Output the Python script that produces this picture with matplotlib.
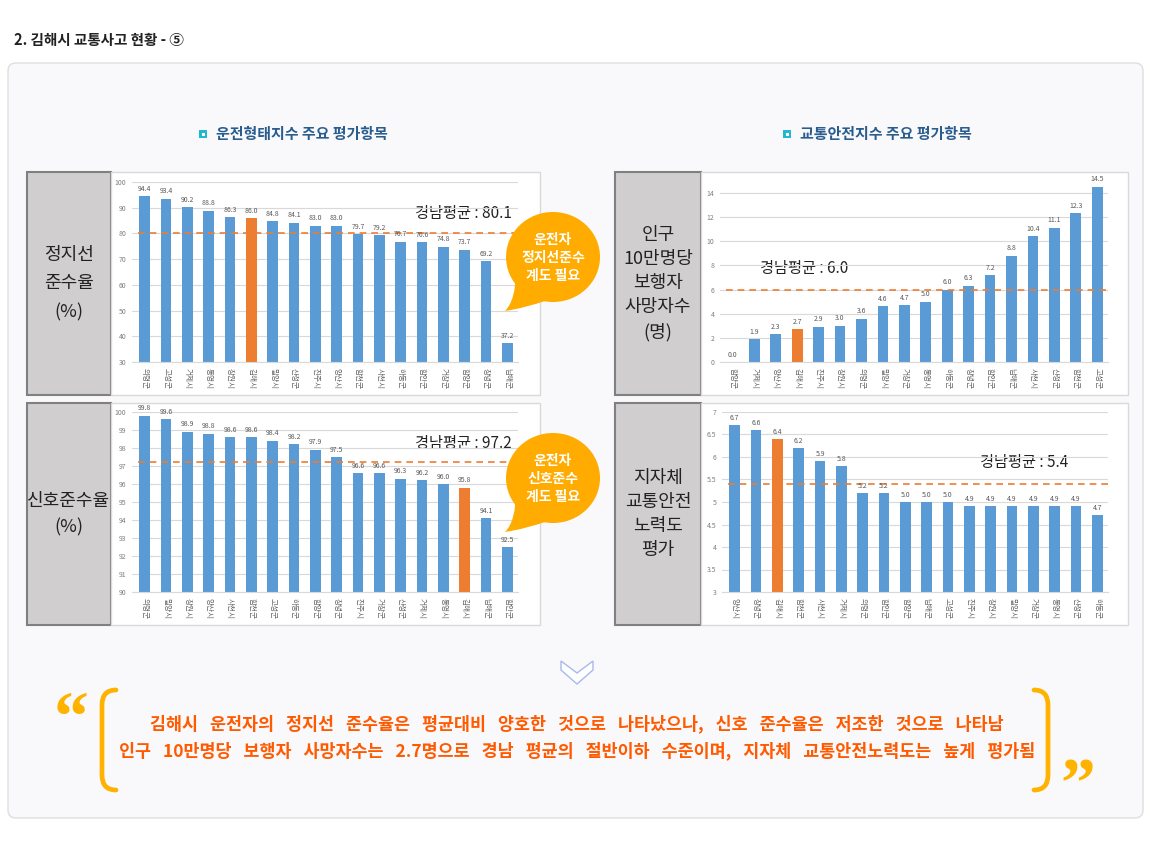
import numpy as np
import matplotlib.pyplot as plt
from matplotlib.patches import FancyBboxPatch, Rectangle, Ellipse, PathPatch, Polygon
from matplotlib.path import Path

plt.rcParams['font.family'] = ['Noto Sans CJK KR', 'DejaVu Sans']

W, H = 1150, 849
BLUE = '#5b9bd5'
ORANGE = '#ed7d31'
AMBER = '#ffab00'
GOLD = '#ffb300'

# 정지선 준수율 (%)
stop_regions = ['의령군', '고성군', '거제시', '통영시', '창원시', '김해시', '밀양시', '산청군', '진주시',
                '양산시', '합천군', '사천시', '하동군', '함안군', '거창군', '함양군', '창녕군', '남해군']
stop_values = [94.4, 93.4, 90.2, 88.8, 86.3, 86.0, 84.8, 84.1, 83.0,
               83.0, 79.7, 79.2, 76.7, 76.6, 74.8, 73.7, 69.2, 37.2]
stop_avg = 80.1

# 신호준수율 (%)
signal_regions = ['의령군', '밀양시', '창원시', '양산시', '사천시', '합천군', '고성군', '하동군', '함양군',
                  '창녕군', '진주시', '거창군', '산청군', '거제시', '통영시', '김해시', '남해군', '함안군']
signal_values = [99.8, 99.6, 98.9, 98.8, 98.6, 98.6, 98.4, 98.2, 97.9,
                 97.5, 96.6, 96.6, 96.3, 96.2, 96.0, 95.8, 94.1, 92.5]
signal_avg = 97.2

# 인구 10만명당 보행자 사망자수 (명)
ped_regions = ['함양군', '거제시', '양산시', '김해시', '진주시', '창원시', '의령군', '밀양시', '거창군',
               '통영시', '하동군', '창녕군', '함안군', '남해군', '사천시', '산청군', '합천군', '고성군']
ped_values = [0.0, 1.9, 2.3, 2.7, 2.9, 3.0, 3.6, 4.6, 4.7,
              5.0, 6.0, 6.3, 7.2, 8.8, 10.4, 11.1, 12.3, 14.5]
ped_avg = 6.0

# 지자체 교통안전 노력도 평가
effort_regions = ['양산시', '창녕군', '김해시', '합천군', '사천시', '거제시', '의령군', '함안군', '함양군',
                  '남해군', '고성군', '진주시', '창원시', '밀양시', '거창군', '통영시', '산청군', '하동군']
effort_values = [6.7, 6.6, 6.4, 6.2, 5.9, 5.8, 5.2, 5.2, 5.0,
                 5.0, 5.0, 4.9, 4.9, 4.9, 4.9, 4.9, 4.9, 4.7]
effort_avg = 5.4


def rect(x0, y0, x1, y1):
    return [x0 / W, 1 - y1 / H, (x1 - x0) / W, (y1 - y0) / H]


fig = plt.figure(figsize=(W / 100, H / 100), dpi=100)
fig.patch.set_facecolor('white')

bg = fig.add_axes([0, 0, 1, 1])
bg.set_xlim(0, W)
bg.set_ylim(H, 0)
bg.axis('off')

bg.text(14, 40, '2. 김해시 교통사고 현황 - ⑤', fontsize=10.5, fontweight='bold', color='#222222',
        va='center', ha='left')

bg.add_patch(FancyBboxPatch((8, 63), 1135, 755, boxstyle='round,pad=0,rounding_size=8',
                            facecolor='#f9f9fb', edgecolor='#dedede', lw=1))

# section headers
for mx, label in [(203, '운전형태지수 주요 평가항목'), (787, '교통안전지수 주요 평가항목')]:
    bg.add_patch(Rectangle((mx - 4, 130), 8, 8, facecolor='#22b8cf', edgecolor='none'))
    bg.add_patch(Rectangle((mx - 1.5, 132.5), 3, 3, facecolor='white', edgecolor='none'))
    bg.text(mx + 13, 134, label, fontsize=10.8, fontweight='bold', color='#2a5d8f', va='center', ha='left')

# label boxes and chart panels
boxes = [
    (27, 172, 111, 395, '정지선\n준수율\n(%)', 1.75),
    (27, 403, 111, 625, '신호준수율\n(%)', 1.6),
    (615, 172, 701, 395, '인구\n10만명당\n보행자\n사망자수\n(명)', 1.45),
    (615, 403, 701, 625, '지자체\n교통안전\n노력도\n평가', 1.45),
]
for x0, y0, x1, y1, label, ls in boxes:
    bg.add_patch(Rectangle((x0, y0), x1 - x0, y1 - y0, facecolor='#d0cece', edgecolor='#808080', lw=1.5))
    bg.text((x0 + x1) / 2, (y0 + y1) / 2, label, fontsize=13, color='#222222', ha='center', va='center',
            linespacing=ls, multialignment='center')
    px1 = 540 if x0 < 300 else 1128
    bg.add_patch(Rectangle((x1, y0), px1 - x1, y1 - y0, facecolor='white', edgecolor='#d9d9d9', lw=1))


def draw_chart(pos, regions, values, avg, ylim, yticks, ytl, avg_xy):
    ax = fig.add_axes(rect(*pos))
    ax.patch.set_alpha(0)
    x = np.arange(len(regions))
    colors = [ORANGE if r == '김해시' else BLUE for r in regions]
    ax.bar(x, values, width=0.5, color=colors, zorder=2)
    ax.hlines(avg, -0.3, len(regions) - 0.5, colors=ORANGE, linestyles=(0, (4, 3)), lw=1.2, zorder=3)
    for xi, v in zip(x, values):
        ax.annotate(f'{v:.1f}', (xi, v), xytext=(0, 2.5), textcoords='offset points', ha='center',
                    va='bottom', fontsize=5, color='#595959', annotation_clip=False)
    ax.set_xlim(-0.6, len(regions) - 0.5)
    ax.set_ylim(*ylim)
    ax.set_yticks(yticks)
    ax.set_yticklabels(ytl, fontsize=5, color='#7f7f7f')
    ax.set_xticks(x)
    ax.set_xticklabels(regions, rotation=-90, fontsize=5.5, color='#666666')
    ax.tick_params(length=0, pad=4)
    ax.grid(axis='y', color='#d9d9d9', lw=0.8, zorder=0)
    ax.set_axisbelow(True)
    for s in ['left', 'right', 'top']:
        ax.spines[s].set_visible(False)
    ax.spines['bottom'].set_color('#d9d9d9')
    bg.text(avg_xy[0], avg_xy[1], f'경남평균 : {avg:.1f}', fontsize=11, color='#222222',
            ha='center', va='center')
    return ax


draw_chart((132, 182, 518, 362), stop_regions, stop_values, stop_avg, (30, 100),
           range(30, 101, 10), [str(t) for t in range(30, 101, 10)], (463, 213))
draw_chart((132, 412, 518, 592), signal_regions, signal_values, signal_avg, (90, 100),
           range(90, 101), [str(t) for t in range(90, 101)], (463, 443))
draw_chart((720, 182, 1108, 362), ped_regions, ped_values, ped_avg, (0, 14.9),
           range(0, 15, 2), [str(t) for t in range(0, 15, 2)], (804, 269))
eff_ticks = np.arange(3, 7.01, 0.5)
draw_chart((722, 412, 1108, 592), effort_regions, effort_values, effort_avg, (3, 7),
           eff_ticks, [f'{t:g}' for t in eff_ticks], (1024, 462))

# overlay for speech bubbles
top = fig.add_axes([0, 0, 1, 1], zorder=10)
top.set_xlim(0, W)
top.set_ylim(H, 0)
top.axis('off')


def bubble(cx, cy, text):
    top.add_patch(Ellipse((cx, cy), 94, 90, facecolor=AMBER, edgecolor='none'))
    verts = [(cx - 37, cy + 13), (cx - 37, cy + 43), (cx - 48, cy + 54),
             (cx - 28, cy + 51), (cx - 5, cy + 43), (cx - 37, cy + 13)]
    codes = [Path.MOVETO, Path.CURVE3, Path.CURVE3, Path.CURVE3, Path.CURVE3, Path.CLOSEPOLY]
    top.add_patch(PathPatch(Path(verts, codes), facecolor=AMBER, edgecolor='none'))
    top.text(cx, cy + 1, text, fontsize=10, fontweight='bold', color='white', ha='center', va='center',
             linespacing=1.35)


bubble(553, 257, '운전자\n정지선준수\n계도 필요')
bubble(553, 478, '운전자\n신호준수\n계도 필요')

# chevron
bg.add_patch(Polygon([(561, 661), (577, 673), (593, 661), (593, 670), (577, 684), (561, 670)],
                     closed=True, facecolor='white', edgecolor='#a9b8f0', lw=1))

# brackets
for verts in [
    [(116, 690), (102, 690), (102, 705), (102, 775), (102, 790), (116, 790)],
    [(1034, 690), (1048, 690), (1048, 705), (1048, 775), (1048, 790), (1034, 790)],
]:
    codes = [Path.MOVETO, Path.CURVE3, Path.CURVE3, Path.LINETO, Path.CURVE3, Path.CURVE3]
    bg.add_patch(PathPatch(Path(verts, codes), facecolor='none', edgecolor=GOLD, lw=3.4,
                           capstyle='round'))

bg.text(71, 690, '\u201c', fontsize=50, fontweight='bold', color=GOLD, ha='center', va='top',
        family='Liberation Serif')
bg.text(1078, 757, '\u201d', fontsize=50, fontweight='bold', color=GOLD, ha='center', va='top',
        family='Liberation Serif')

summary_lines = [
    '김해시   운전자의   정지선   준수율은   평균대비   양호한   것으로   나타났으나,   신호   준수율은   저조한   것으로   나타남',
    '인구   10만명당   보행자   사망자수는   2.7명으로   경남   평균의   절반이하   수준이며,   지자체   교통안전노력도는   높게   평가됨',
]
for i, line in enumerate(summary_lines):
    bg.text(577, 724 + 27 * i, line, fontsize=12.5, fontweight='bold', color='#ff5a00',
            ha='center', va='center')

fig.savefig('out.png', dpi=100)
